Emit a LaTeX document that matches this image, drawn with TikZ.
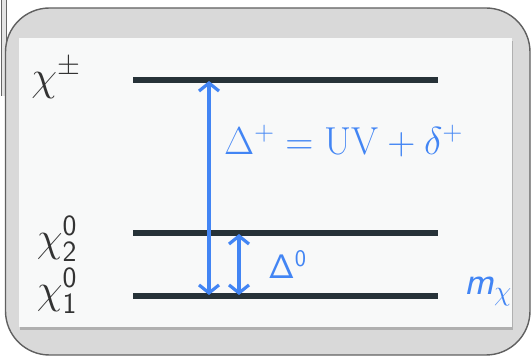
\RequirePackage{fix-cm}
\documentclass[tikz,border=0pt]{standalone}
\usepackage{xcolor}
\usepackage{tikz}
\usetikzlibrary{arrows.meta, positioning, shadows}

\definecolor{levelcol}{HTML}{263238}
\definecolor{gapblue}{HTML}{4285F4}
\definecolor{framegray}{HTML}{D9D9D9}
\definecolor{panelwhite}{HTML}{F8F9F9}
\definecolor{labelgray}{HTML}{333333}

\tikzset{
  level/.style={draw=levelcol, line width=6pt},
  gap/.style={draw=gapblue, line width=3.2pt, {Straight Barb[length=8pt,width=20pt]}-{Straight Barb[length=8pt,width=20pt]}},
  statelabel/.style={text=labelgray, font=\fontsize{42}{48}\selectfont, inner sep=0pt},
  gaplabel/.style={text=gapblue, inner sep=0pt, anchor=base west},
}

\begin{document}
\begin{tikzpicture}[x=1pt, y=-1pt]
    \useasboundingbox (0,0) rectangle (531,358);
    % frame behind, cut off at the left
    \fill[framegray!70] (1.5,-2) rectangle (6,96);
    \draw[gray!80!black, line width=1pt] (1.5,-2) -- (1.5,96) (6,-2) -- (6,96);
    % outer box and panel
    \draw[fill=framegray, draw=gray!75!black, line width=1.4pt, rounded corners=44pt] (5.5,8) rectangle (530,355);
    \fill[panelwhite, drop shadow={shadow xshift=1pt, shadow yshift=-3pt, opacity=0.45}] (19,38) rectangle (512,327);

    % the three levels
    \coordinate (pmL) at (133,80);   \coordinate (pmR) at (438,80);
    \coordinate (twoL) at (133,233); \coordinate (twoR) at (438,233);
    \coordinate (oneL) at (133,296); \coordinate (oneR) at (438,296);
    \draw[level] (pmL) -- (pmR);
    \draw[level] (twoL) -- (twoR);
    \draw[level] (oneL) -- (oneR);

    \node[statelabel] (chipm) at (56,78) {$\chi^{\pm}$};
    \node[statelabel] (chitwo) at (57,239) {$\chi^{\mathsf{0}}_{\mathsf{2}}$};
    \node[statelabel] (chione) at (57,291) {$\chi^{\mathsf{0}}_{\mathsf{1}}$};
    %	\node[statelabel] (chithree) [above=of chipm] {$\chi^0_3$};

    % splittings
    \coordinate (plusTop) at (209,81);  \coordinate (plusBot) at (209,295);
    \coordinate (zeroTop) at (239,234); \coordinate (zeroBot) at (239,295);
    \draw[gap] (plusBot) -- (plusTop);
    \draw[gap] (zeroBot) -- (zeroTop);

    \node[gaplabel, font=\fontsize{39}{46}\selectfont] (dplus) at (224,155) {$\Delta^{+}=\mathrm{UV}+\delta^{+}$};
    \node[gaplabel, font=\fontsize{34}{40}\selectfont] (dzero) at (268,279) {$\mathsf{\Delta}^{\mathsf{0}}$};
    \node[gaplabel, font=\fontsize{40}{46}\selectfont] (mchi) at (464,295) {$\textsf{\textit{m}}_{\chi}$};
\end{tikzpicture}
\end{document}
